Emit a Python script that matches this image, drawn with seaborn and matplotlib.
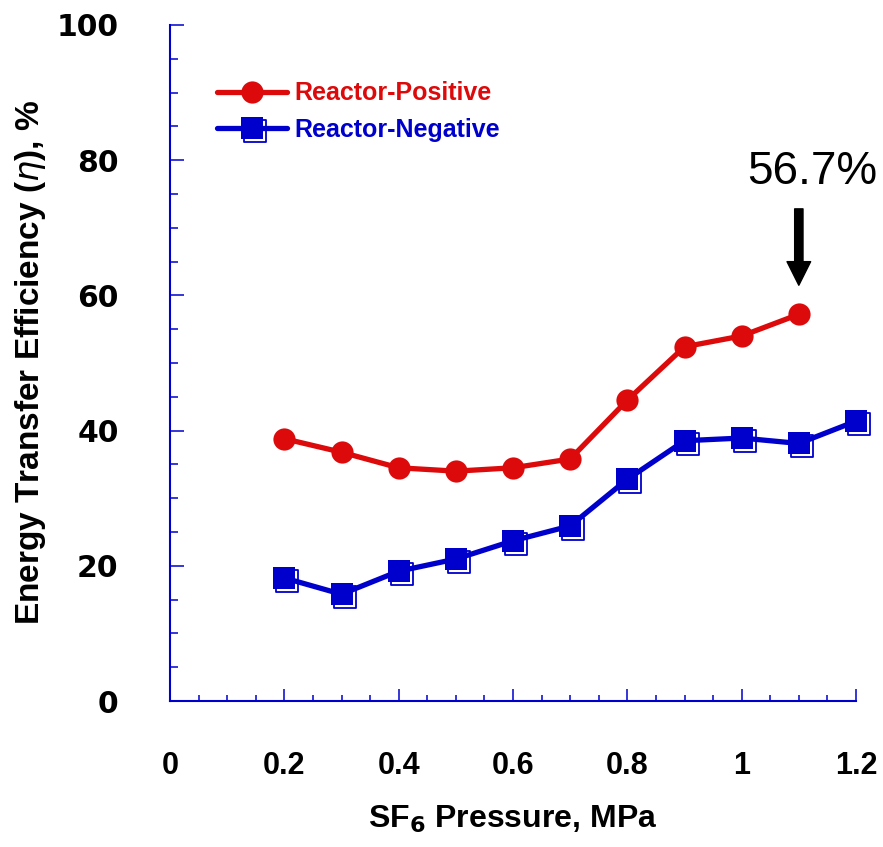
import numpy as np
import matplotlib
matplotlib.use("Agg")
import matplotlib.pyplot as plt
import seaborn as sns
from matplotlib.path import Path
from matplotlib.lines import Line2D
from matplotlib.legend_handler import HandlerTuple
from matplotlib.ticker import MultipleLocator

# ---- data ----
pressure_pos = [0.2, 0.3, 0.4, 0.5, 0.6, 0.7, 0.8, 0.9, 1.0, 1.1]
eff_pos = [38.8, 36.8, 34.5, 34.0, 34.5, 35.8, 44.5, 52.4, 54.0, 57.2]
pressure_neg = [0.2, 0.3, 0.4, 0.5, 0.6, 0.7, 0.8, 0.9, 1.0, 1.1, 1.2]
eff_neg = [18.2, 15.8, 19.2, 21.0, 23.7, 25.9, 32.8, 38.5, 38.9, 38.1, 41.4]
series_labels = ["Reactor-Positive", "Reactor-Negative"]
xticks = [0, 0.2, 0.4, 0.6, 0.8, 1.0, 1.2]
xticklabels = ["0", "0.2", "0.4", "0.6", "0.8", "1", "1.2"]
yticks = [0, 20, 40, 60, 80, 100]
annot_text = "56.7%"
annot_x = 1.1
annot_tip_y = 61.5
annot_tail_y = 72.8

RED = "#dc0a0a"
BLUE = "#0000cc"

sns.set_theme(style="white")
plt.rcParams["font.family"] = ["Liberation Sans", "DejaVu Sans"]

fig = plt.figure(figsize=(8.83, 8.47), dpi=100)
ax = fig.add_axes([170 / 883, 1 - 701 / 847, 686 / 883, 676 / 847])

MS = 16
# shadow hollow square marker (offset down-right)
d = 0.14
sq = np.array([[-0.5 + d, -0.5 - d], [0.5 + d, -0.5 - d], [0.5 + d, 0.5 - d],
               [-0.5 + d, 0.5 - d], [-0.5 + d, -0.5 - d]])
shadow_path = Path(sq, [Path.MOVETO, Path.LINETO, Path.LINETO, Path.LINETO, Path.CLOSEPOLY])
shadow_kw = dict(marker=shadow_path, markersize=MS * (1 + 2 * d), mfc="none",
                 mec=BLUE, mew=1.3, linestyle="none")

ax.plot(pressure_neg, eff_neg, zorder=2, clip_on=False, **shadow_kw)

sns.lineplot(x=pressure_pos, y=eff_pos, color=RED, marker="o", markersize=MS,
             markeredgewidth=0, mec=RED, linewidth=3.8, ax=ax, zorder=3, clip_on=False)
sns.lineplot(x=pressure_neg, y=eff_neg, color=BLUE, marker="s", markersize=MS,
             markeredgewidth=0, mec=BLUE, linewidth=3.8, ax=ax, zorder=3, clip_on=False)

ax.set_xlim(0, 1.2)
ax.set_ylim(0, 100)

# spines
for s in ["top", "right"]:
    ax.spines[s].set_visible(False)
for s in ["left", "bottom"]:
    ax.spines[s].set_color(BLUE)
    ax.spines[s].set_linewidth(1.5)

ax.set_xticks(xticks)
ax.set_xticklabels(xticklabels)
ax.set_yticks(yticks)
ax.xaxis.set_minor_locator(MultipleLocator(0.05))
ax.yaxis.set_minor_locator(MultipleLocator(5))
ax.tick_params(axis="x", which="major", direction="in", length=9, width=1.1,
               color=BLUE, pad=36, labelcolor="black")
ax.tick_params(axis="x", which="minor", direction="in", length=4.5, width=1.1, color=BLUE)
ax.tick_params(axis="y", which="major", direction="in", length=10, width=1.1,
               color=BLUE, pad=37, labelcolor="black")
ax.tick_params(axis="y", which="minor", direction="in", length=6, width=1.1, color=BLUE)
ax.tick_params(left=True, bottom=True, which="both")

for lab in ax.get_xticklabels():
    lab.set_fontfamily(["Liberation Sans Narrow", "Liberation Sans"])
    lab.set_fontweight("bold")
    lab.set_fontsize(22)
for lab in ax.get_yticklabels():
    lab.set_fontfamily(["DejaVu Sans"])
    lab.set_fontweight("bold")
    lab.set_fontsize(21.5)

ax.set_xlabel(r"SF$_\mathbf{6}$ Pressure, MPa", fontsize=23, fontweight="bold", color="black")
ax.set_ylabel(r"Energy Transfer Efficiency ($\eta$), %", fontsize=24, fontweight="bold",
              color="black")
ax.xaxis.set_label_coords(0.5, -0.152)
ax.yaxis.set_label_coords(-0.178, 0.5)

# legend
h_pos = Line2D([], [], color=RED, marker="o", markersize=MS, mew=0, linewidth=3.8)
h_neg_shadow = Line2D([], [], color=BLUE, **shadow_kw)
h_neg = Line2D([], [], color=BLUE, marker="s", markersize=MS, mew=0, linewidth=3.8)
leg = ax.legend([h_pos, (h_neg_shadow, h_neg)], series_labels,
                handler_map={tuple: HandlerTuple(ndivide=1, pad=0)},
                loc="upper left", bbox_to_anchor=(0.05, 0.935), frameon=False,
                borderpad=0, handlelength=2.8, handletextpad=0.3, labelspacing=0.5,
                prop={"weight": "bold", "size": 18}, labelcolor=[RED, BLUE])

# annotation
ax.annotate("", xy=(annot_x, annot_tip_y), xytext=(annot_x, annot_tail_y),
            arrowprops=dict(arrowstyle="simple,head_length=0.85,head_width=0.85,tail_width=0.3",
                            color="black", shrinkA=0, shrinkB=0, mutation_scale=20))
ax.text(annot_x + 0.023, 78.3, annot_text, fontsize=33, ha="center", va="center",
        color="black")

fig.savefig("out.png", dpi=100)
